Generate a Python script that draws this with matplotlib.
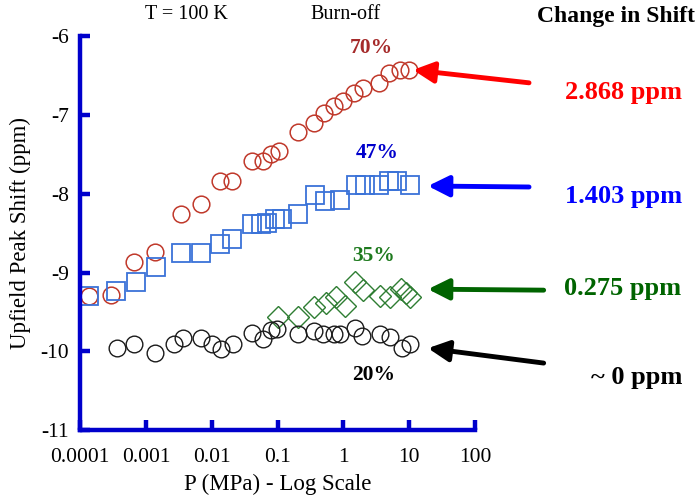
import matplotlib
matplotlib.use("Agg")
import matplotlib.pyplot as plt

plt.rcParams['font.family'] = ['Liberation Serif', 'DejaVu Serif']

# 70% burn-off (red circles)
p70 = [1.37e-4, 2.96e-4, 6.6e-4, 1.38e-3, 3.4e-3, 6.9e-3, 0.0134, 0.0204, 0.041, 0.060,
       0.080, 0.106, 0.206, 0.36, 0.51, 0.72, 0.99, 1.46, 2.0, 3.5, 4.97, 7.3, 10.0]
s70 = [-9.30, -9.29, -8.87, -8.74, -8.26, -8.13, -7.84, -7.84, -7.59, -7.59,
       -7.50, -7.46, -7.22, -7.10, -6.98, -6.89, -6.82, -6.72, -6.66, -6.60, -6.47, -6.43, -6.43]

# 47% burn-off (blue squares)
p47 = [1.37e-4, 3.5e-4, 7.1e-4, 1.43e-3, 3.4e-3, 6.9e-3, 0.0134, 0.0204, 0.041, 0.056,
       0.070, 0.092, 0.117, 0.206, 0.37, 0.53, 0.89, 1.57, 2.14, 3.5, 4.97, 6.57, 10.35]
s47 = [-9.30, -9.24, -9.12, -8.93, -8.75, -8.75, -8.64, -8.58, -8.39, -8.39,
       -8.37, -8.32, -8.32, -8.26, -8.02, -8.09, -8.08, -7.89, -7.89, -7.89, -7.84, -7.84, -7.89]

# 35% burn-off (green diamonds)
p35 = [0.102, 0.206, 0.36, 0.55, 0.78, 1.06, 1.51, 2.0, 3.6, 5.1, 7.6, 9.0, 10.35]
s35 = [-9.57, -9.57, -9.44, -9.39, -9.31, -9.43, -9.12, -9.22, -9.30, -9.31, -9.21, -9.26, -9.31]

# 20% burn-off (black circles)
p20 = [3.65e-4, 6.6e-4, 1.38e-3, 2.68e-3, 3.67e-3, 6.9e-3, 0.0101, 0.0139, 0.0211, 0.041,
       0.060, 0.080, 0.099, 0.206, 0.36, 0.49, 0.72, 0.89, 1.51, 1.93, 3.6, 5.1, 7.8, 10.35]
s20 = [-9.96, -9.91, -10.02, -9.91, -9.83, -9.83, -9.91, -9.97, -9.91, -9.77,
       -9.85, -9.73, -9.72, -9.78, -9.74, -9.78, -9.78, -9.78, -9.71, -9.81, -9.78, -9.82, -9.96, -9.91]

xticks = [1e-4, 1e-3, 1e-2, 1e-1, 1, 10, 100]
xtick_labels = ['0.0001', '0.001', '0.01', '0.1', '1', '10', '100']
yticks = [-11, -10, -9, -8, -7, -6]

fig = plt.figure(figsize=(6.97, 4.96), dpi=100)
ax = fig.add_axes([0.1148, 0.133, 0.567, 0.794])

ax.plot(p70, s70, 'o', ms=12, mfc='none', mec='#c0392b', mew=1.1, ls='none')
ax.plot(p47, s47, 's', ms=13, mfc='none', mec='#3a72d8', mew=1.3, ls='none')
ax.plot(p35, s35, 'D', ms=11.5, mfc='none', mec='#2e7d32', mew=1.0, ls='none')
ax.plot(p20, s20, 'o', ms=12, mfc='none', mec='#1a1a1a', mew=1.0, ls='none')

ax.set_xscale('log')
ax.set_xlim(1e-4, 100)
ax.set_ylim(-11, -6)
ax.set_xticks(xticks)
ax.set_xticklabels(xtick_labels)
ax.minorticks_off()
ax.set_yticks(yticks)
ax.set_yticklabels([str(t) for t in yticks])

for side in ['top', 'right']:
    ax.spines[side].set_visible(False)
for side in ['left', 'bottom']:
    ax.spines[side].set_color('#0000cc')
    ax.spines[side].set_linewidth(3.2)
ax.tick_params(direction='in', length=7, width=3.2, color='#0000cc', labelsize=15.5)
ax.tick_params(axis='x', pad=13)
ax.tick_params(axis='y', pad=8)

ax.set_xlabel('P (MPa) - Log Scale', fontsize=16.5, labelpad=5)
ax.set_ylabel('Upfield Peak Shift (ppm)', fontsize=16.5, labelpad=7)

# series labels
ax.text(2.6, -6.15, '70%', color='#a52a2a', fontsize=15.5, fontweight='bold', ha='center', va='center')
ax.text(3.27, -7.48, '47%', color='#0000cc', fontsize=15.5, fontweight='bold', ha='center', va='center')
ax.text(2.84, -8.79, '35%', color='#1e7a1e', fontsize=15.5, fontweight='bold', ha='center', va='center')
ax.text(2.9, -10.30, '20%', color='black', fontsize=15.5, fontweight='bold', ha='center', va='center')

# header texts
fig.text(0.267, 0.970, 'T = 100 K', fontsize=14.5, ha='center', va='center')
fig.text(0.496, 0.970, 'Burn-off', fontsize=14.5, ha='center', va='center')
fig.text(0.884, 0.966, 'Change in Shift', fontsize=17, fontweight='bold', ha='center', va='center')

# change in shift labels
fig.text(0.895, 0.8125, '2.868 ppm', color='#ff0000', fontsize=19, fontweight='bold', ha='center', va='center')
fig.text(0.895, 0.603, '1.403 ppm', color='#0000ff', fontsize=19, fontweight='bold', ha='center', va='center')
fig.text(0.893, 0.419, '0.275 ppm', color='#006400', fontsize=19, fontweight='bold', ha='center', va='center')
fig.text(0.914, 0.238, '~ 0 ppm', color='black', fontsize=19, fontweight='bold', ha='center', va='center')

arrows = [
    ((0.5925, 0.859), (0.759, 0.833), '#ff0000'),
    ((0.614, 0.625), (0.759, 0.623), '#0000ff'),
    ((0.614, 0.417), (0.780, 0.415), '#006400'),
    ((0.614, 0.298), (0.780, 0.268), 'black'),
]
for tip, tail, col in arrows:
    ax.annotate('', xy=tip, xytext=tail, xycoords='figure fraction',
                textcoords='figure fraction',
                arrowprops=dict(arrowstyle='-|>,head_length=0.9,head_width=0.45',
                                color=col, lw=3.5, mutation_scale=14,
                                shrinkA=0, shrinkB=0))

fig.savefig('out.png', dpi=100)
